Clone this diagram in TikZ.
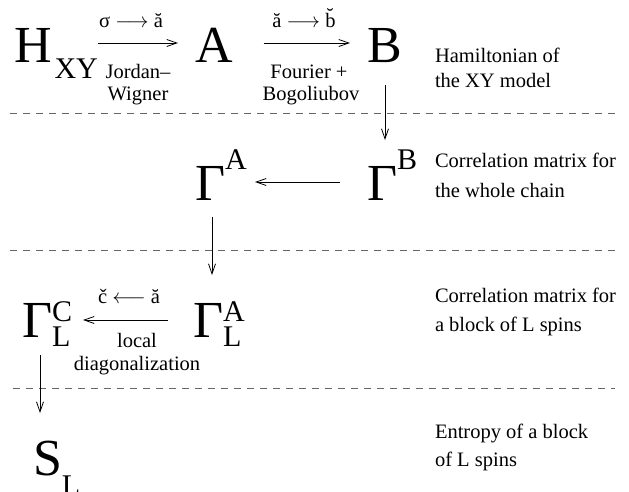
\documentclass[tikz,border=0pt]{standalone}
\usepackage{fontspec}
\setmainfont{Liberation Serif}
\usetikzlibrary{arrows.meta}
\newcommand\bigf{\fontsize{52}{52}\selectfont}
\newcommand\supf{\fontsize{30}{30}\selectfont}
\newcommand\txtf{\fontsize{20.5}{24}\selectfont}
\newcommand\substack[2]{\raisebox{-9pt}{\supf\begin{tabular}[b]{@{}l@{}}#1\\[-5pt]#2\end{tabular}}}
\begin{document}
\begin{tikzpicture}[x=1pt,y=-1pt,
  every node/.style={inner sep=0pt,outer sep=0pt},
  sym/.style={anchor=base west},
  lbl/.style={anchor=base,font=\txtf},
  rtxt/.style={anchor=base west,font=\txtf},
  arr/.style={-{Straight Barb[length=10pt,width=7pt]},line width=0.8pt},
  sep/.style={dash pattern=on 7pt off 6pt,line width=0.8pt,black!60}]
\useasboundingbox (0,0) rectangle (629,491);
% symbols
\node[sym] (H) at (14,62) {{\bigf H}\kern3pt\raisebox{-16pt}{\supf XY}};
\node[sym] (A) at (195,62) {\bigf A};
\node[sym] (B) at (367,62) {\bigf B};
\node[sym] (GA) at (195,200) {{\bigf Γ}\raisebox{31pt}{\supf A}};
\node[sym] (GB) at (367,200) {{\bigf Γ}\raisebox{31pt}{\supf B}};
\node[sym] (GLC) at (22,337) {{\bigf Γ}\substack{C}{L}};
\node[sym] (GLA) at (193,337) {{\bigf Γ}\substack{A}{L}};
\node[sym] (S) at (33,475) {{\bigf S}\raisebox{-20pt}{\supf L}};
% arrow labels
\node[lbl] (l1a) at (131,27) {σ $\longrightarrow$ ă};
\node[lbl] (l1b) at (138,78) {Jordan–};
\node[lbl] (l1c) at (138,100) {Wigner};
\node[lbl] (l2a) at (304,27) {ă $\longrightarrow$ b̆};
\node[lbl] (l2b) at (309,78) {Fourier +};
\node[lbl] (l2c) at (311,100) {Bogoliubov};
\node[lbl] (l3a) at (129,303) {č $\longleftarrow$ ă};
\node[lbl] (l3b) at (137,347) {local};
\node[lbl] (l3c) at (137,370) {diagonalization};
% right texts
\node[rtxt] (r1a) at (435,62) {Hamiltonian of};
\node[rtxt] (r1b) at (435,87) {the XY model};
\node[rtxt] (r2a) at (435,167) {Correlation matrix for};
\node[rtxt] (r2b) at (435,197) {the whole chain};
\node[rtxt] (r3a) at (435,302) {Correlation matrix for};
\node[rtxt] (r3b) at (435,331) {a block of L spins};
\node[rtxt] (r4a) at (435,438) {Entropy of a block};
\node[rtxt] (r4b) at (435,466) {of L spins};
% separators
\coordinate (d1a) at (10,113); \coordinate (d1b) at (615,113);
\coordinate (d2a) at (10,250); \coordinate (d2b) at (615,250);
\coordinate (d3a) at (13,388); \coordinate (d3b) at (615,388);
\draw[sep] (d1a) -- (d1b);
\draw[sep] (d2a) -- (d2b);
\draw[sep] (d3a) -- (d3b);
% connectors
\draw[arr,shorten >=17pt] (H.east |- 0,43) -- (A.west |- 0,43);
\draw[arr,shorten <=31pt,shorten >=17pt] (A.east |- 0,43) -- (B.west |- 0,43);
\draw[arr,shorten <=23pt] (385,62) -- (385,140);
\draw[arr] (340,182) -- (255,182);
\draw[arr] (212,217) -- (212,275);
\draw[arr] (168,320) -- (83,320);
\draw[arr] (40,355) -- (40,413);
\end{tikzpicture}
\end{document}
